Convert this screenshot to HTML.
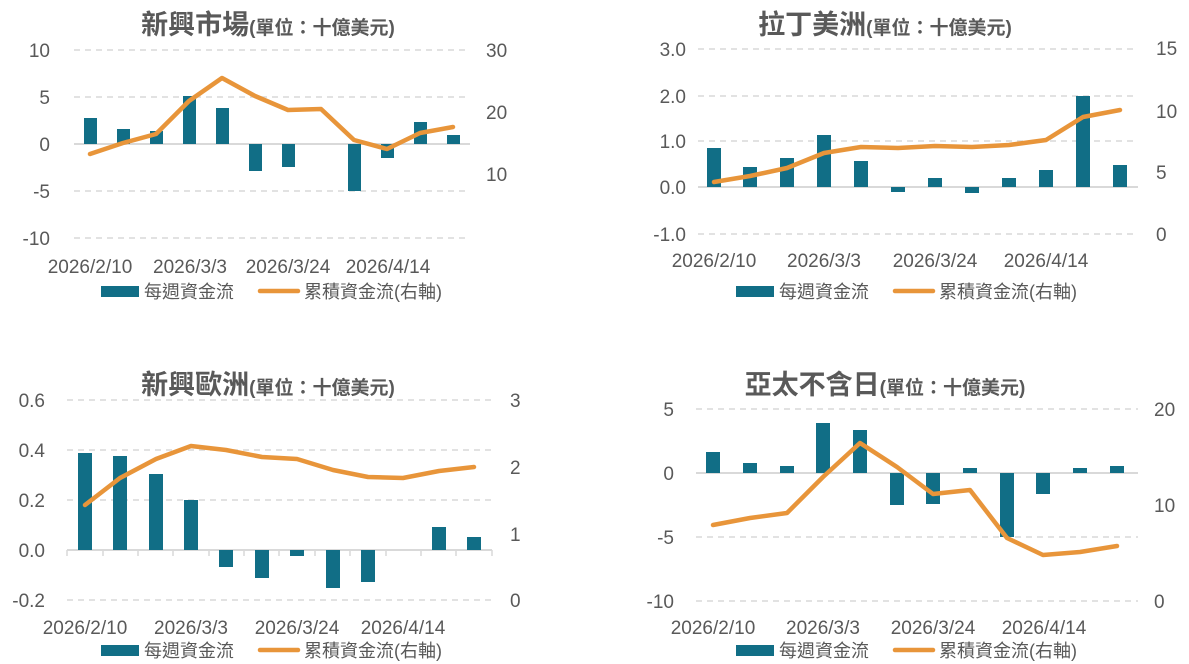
<!DOCTYPE html>
<html><head><meta charset="utf-8"><style>
body{margin:0;background:#fff}
svg{display:block;font-family:"Liberation Sans","Noto Sans CJK TC",sans-serif}
.t{font-size:19px;fill:#595959}
.lg{font-size:18px;fill:#595959}
.g{stroke:#d9d9d9;stroke-width:1.5;stroke-dasharray:6,5}
.z{stroke:#d9d9d9;stroke-width:2}
.b{fill:#116e86}
.l{fill:none;stroke:#e8953a;stroke-width:4.5;stroke-linejoin:round;stroke-linecap:round}
.ti{font-weight:bold;fill:#595959}
</style></head><body>
<svg width="1189" height="664" viewBox="0 0 1189 664">
<!-- Chart 1 -->
<text x="268" y="34" text-anchor="middle" class="ti"><tspan font-size="27">新興市場</tspan><tspan font-size="19">(單位：十億美元)</tspan></text>
<line class="g" x1="74" y1="50" x2="470" y2="50"/><line class="g" x1="74" y1="97" x2="470" y2="97"/><line class="g" x1="74" y1="191" x2="470" y2="191"/><line class="g" x1="74" y1="238" x2="470" y2="238"/>
<line class="z" x1="74" y1="144" x2="470" y2="144"/>
<g class="t" text-anchor="end"><text x="50" y="57">10</text><text x="50" y="104">5</text><text x="50" y="151">0</text><text x="50" y="198">-5</text><text x="50" y="245">-10</text></g>
<g class="t"><text x="486" y="57">30</text><text x="486" y="119">20</text><text x="486" y="181">10</text></g>
<g class="b"><rect x="84" y="118" width="13" height="26"/><rect x="117" y="129" width="13" height="15"/><rect x="150" y="131" width="13" height="13"/><rect x="183" y="96" width="13" height="48"/><rect x="216" y="108" width="13" height="36"/><rect x="249" y="144" width="13" height="27"/><rect x="282" y="144" width="13" height="23"/><rect x="348" y="144" width="13" height="47"/><rect x="381" y="144" width="13" height="14"/><rect x="414" y="122" width="13" height="22"/><rect x="447" y="135" width="13" height="9"/></g>
<polyline class="l" points="90,154 123,143 156,134 189,101 222,78 255,96 288,110 321,109 354,140 387,149 420,133 453,127"/>
<g class="t" text-anchor="middle"><text x="90" y="273">2026/2/10</text><text x="190" y="273">2026/3/3</text><text x="288" y="273">2026/3/24</text><text x="388" y="273">2026/4/14</text></g>
<rect class="b" x="101" y="286" width="38" height="11"/><text class="lg" x="144" y="298">每週資金流</text>
<line class="l" x1="260" y1="291" x2="298" y2="291"/><text class="lg" x="304" y="298">累積資金流(右軸)</text>

<!-- Chart 2 -->
<text x="885" y="34" text-anchor="middle" class="ti"><tspan font-size="27">拉丁美洲</tspan><tspan font-size="19">(單位：十億美元)</tspan></text>
<line class="g" x1="698" y1="49" x2="1138" y2="49"/><line class="g" x1="698" y1="96" x2="1138" y2="96"/><line class="g" x1="698" y1="141" x2="1138" y2="141"/><line class="g" x1="698" y1="234" x2="1138" y2="234"/>
<line class="z" x1="698" y1="187" x2="1138" y2="187"/>
<g class="t" text-anchor="end"><text x="686" y="56">3.0</text><text x="686" y="103">2.0</text><text x="686" y="148">1.0</text><text x="686" y="194">0.0</text><text x="686" y="241">-1.0</text></g>
<g class="t"><text x="1156" y="55">15</text><text x="1156" y="118">10</text><text x="1156" y="179">5</text><text x="1156" y="241">0</text></g>
<g class="b"><rect x="707" y="148" width="14" height="39"/><rect x="743" y="167" width="14" height="20"/><rect x="780" y="158" width="14" height="29"/><rect x="817" y="135" width="14" height="52"/><rect x="854" y="161" width="14" height="26"/><rect x="891" y="187" width="14" height="5"/><rect x="928" y="178" width="14" height="9"/><rect x="965" y="187" width="14" height="6"/><rect x="1002" y="178" width="14" height="9"/><rect x="1039" y="170" width="14" height="17"/><rect x="1076" y="96" width="14" height="91"/><rect x="1113" y="165" width="14" height="22"/></g>
<polyline class="l" points="714,182 750,176 787,168 824,153 861,147 898,148 935,146 972,147 1009,145 1046,140 1083,117 1120,110"/>
<g class="t" text-anchor="middle"><text x="714" y="267">2026/2/10</text><text x="824" y="267">2026/3/3</text><text x="935" y="267">2026/3/24</text><text x="1046" y="267">2026/4/14</text></g>
<rect class="b" x="736" y="286" width="38" height="11"/><text class="lg" x="779" y="298">每週資金流</text>
<line class="l" x1="895" y1="291" x2="933" y2="291"/><text class="lg" x="939" y="298">累積資金流(右軸)</text>

<!-- Chart 3 -->
<text x="268" y="394" text-anchor="middle" class="ti"><tspan font-size="27">新興歐洲</tspan><tspan font-size="19">(單位：十億美元)</tspan></text>
<line class="g" x1="67" y1="400" x2="492" y2="400"/><line class="g" x1="67" y1="450" x2="492" y2="450"/><line class="g" x1="67" y1="500" x2="492" y2="500"/><line class="g" x1="67" y1="600" x2="492" y2="600"/>
<line class="z" x1="67" y1="550" x2="492" y2="550"/>
<g stroke="#d9d9d9" stroke-width="1.5"><line x1="67" y1="550" x2="67" y2="556"/><line x1="103" y1="550" x2="103" y2="556"/><line x1="138" y1="550" x2="138" y2="556"/><line x1="173" y1="550" x2="173" y2="556"/><line x1="209" y1="550" x2="209" y2="556"/><line x1="244" y1="550" x2="244" y2="556"/><line x1="279" y1="550" x2="279" y2="556"/><line x1="315" y1="550" x2="315" y2="556"/><line x1="350" y1="550" x2="350" y2="556"/><line x1="386" y1="550" x2="386" y2="556"/><line x1="421" y1="550" x2="421" y2="556"/><line x1="456" y1="550" x2="456" y2="556"/><line x1="492" y1="550" x2="492" y2="556"/></g>
<g class="t" text-anchor="end"><text x="45" y="407">0.6</text><text x="45" y="457">0.4</text><text x="45" y="507">0.2</text><text x="45" y="557">0.0</text><text x="45" y="607">-0.2</text></g>
<g class="t"><text x="510" y="407">3</text><text x="510" y="474">2</text><text x="510" y="541">1</text><text x="510" y="607">0</text></g>
<g class="b"><rect x="78" y="453" width="14" height="97"/><rect x="113" y="456" width="14" height="94"/><rect x="149" y="474" width="14" height="76"/><rect x="184" y="500" width="14" height="50"/><rect x="219" y="550" width="14" height="17"/><rect x="255" y="550" width="14" height="28"/><rect x="290" y="550" width="14" height="6"/><rect x="326" y="550" width="14" height="38"/><rect x="361" y="550" width="14" height="32"/><rect x="432" y="527" width="14" height="23"/><rect x="467" y="537" width="14" height="13"/></g>
<polyline class="l" points="85,505 120,478 156,459 191,446 226,450 262,457 297,459 333,470 368,477 403,478 439,471 474,467"/>
<g class="t" text-anchor="middle"><text x="85" y="634">2026/2/10</text><text x="191" y="634">2026/3/3</text><text x="297" y="634">2026/3/24</text><text x="403" y="634">2026/4/14</text></g>
<rect class="b" x="101" y="645" width="38" height="11"/><text class="lg" x="144" y="657">每週資金流</text>
<line class="l" x1="260" y1="650" x2="298" y2="650"/><text class="lg" x="304" y="657">累積資金流(右軸)</text>

<!-- Chart 4 -->
<text x="885" y="394" text-anchor="middle" class="ti"><tspan font-size="27">亞太不含日</tspan><tspan font-size="19">(單位：十億美元)</tspan></text>
<line class="g" x1="696" y1="409" x2="1138" y2="409"/><line class="g" x1="696" y1="537" x2="1138" y2="537"/><line class="g" x1="696" y1="601" x2="1138" y2="601"/>
<line class="z" x1="696" y1="473" x2="1138" y2="473"/>
<g class="t" text-anchor="end"><text x="674" y="416">5</text><text x="674" y="480">0</text><text x="674" y="544">-5</text><text x="674" y="608">-10</text></g>
<g class="t"><text x="1154" y="416">20</text><text x="1154" y="512">10</text><text x="1154" y="608">0</text></g>
<g class="b"><rect x="706" y="452" width="14" height="21"/><rect x="743" y="463" width="14" height="10"/><rect x="780" y="466" width="14" height="7"/><rect x="816" y="423" width="14" height="50"/><rect x="853" y="430" width="14" height="43"/><rect x="890" y="473" width="14" height="32"/><rect x="926" y="473" width="14" height="31"/><rect x="963" y="468" width="14" height="5"/><rect x="1000" y="473" width="14" height="64"/><rect x="1036" y="473" width="14" height="21"/><rect x="1073" y="468" width="14" height="5"/><rect x="1110" y="466" width="14" height="7"/></g>
<polyline class="l" points="713,525 750,518 787,513 823,477 860,443 897,467 933,494 970,490 1007,538 1043,555 1080,552 1117,546"/>
<g class="t" text-anchor="middle"><text x="713" y="634">2026/2/10</text><text x="823" y="634">2026/3/3</text><text x="933" y="634">2026/3/24</text><text x="1044" y="634">2026/4/14</text></g>
<rect class="b" x="736" y="645" width="38" height="11"/><text class="lg" x="779" y="657">每週資金流</text>
<line class="l" x1="895" y1="650" x2="933" y2="650"/><text class="lg" x="939" y="657">累積資金流(右軸)</text>
</svg>
</body></html>
